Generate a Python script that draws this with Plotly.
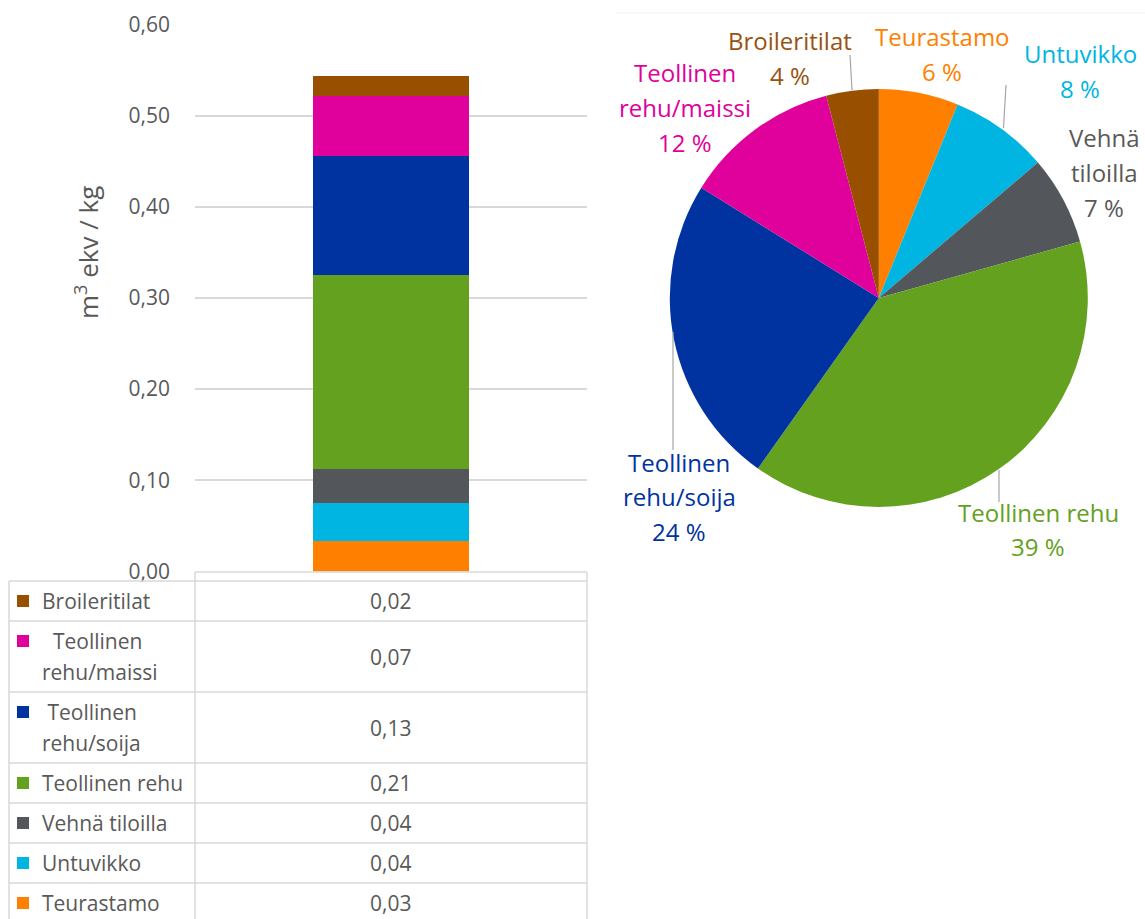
import plotly.graph_objects as go

W, H = 1145, 919

# data (stack order, bottom -> top)
categories = ["Teurastamo", "Untuvikko", "Vehnä tiloilla", "Teollinen rehu",
              "Teollinen rehu/soija", "Teollinen rehu/maissi", "Broileritilat"]
values = [0.0334, 0.0414, 0.0373, 0.2127, 0.1305, 0.0657, 0.0220]
colors = ["#FF8000", "#00B5E2", "#53565A", "#64A11E", "#0033A0", "#E0009B", "#994F00"]
label_colors = ["#FF8000", "#00B5E2", "#595959", "#64A11E", "#0033A0", "#E0009B", "#9A5210"]

y_ticks = [0.0, 0.1, 0.2, 0.3, 0.4, 0.5, 0.6]

# how each name wraps in the data table and in the pie labels
table_lines = {
    "Teurastamo": ["Teurastamo"],
    "Untuvikko": ["Untuvikko"],
    "Vehnä tiloilla": ["Vehnä tiloilla"],
    "Teollinen rehu": ["Teollinen rehu"],
    "Teollinen rehu/soija": ["\u00a0Teollinen", "rehu/soija"],
    "Teollinen rehu/maissi": ["\u00a0\u00a0Teollinen", "rehu/maissi"],
    "Broileritilat": ["Broileritilat"],
}
pie_lines = {
    "Teurastamo": ["Teurastamo"],
    "Untuvikko": ["Untuvikko"],
    "Vehnä tiloilla": ["Vehnä", "tiloilla"],
    "Teollinen rehu": ["Teollinen rehu"],
    "Teollinen rehu/soija": ["Teollinen", "rehu/soija"],
    "Teollinen rehu/maissi": ["Teollinen", "rehu/maissi"],
    "Broileritilat": ["Broileritilat"],
}

FONT = "Open Sans, Noto Sans, sans-serif"
GREY = "#595959"
LINE = "#d9d9d9"


def px(x):
    return x / W


def py(y):
    return 1 - y / H


fig = go.Figure()

# stacked column
for cat, val, col in zip(categories, values, colors):
    fig.add_trace(go.Bar(x=[""], y=[val], name=cat, marker=dict(color=col, line=dict(width=0)),
                         xaxis="x", yaxis="y", showlegend=False))

# pie
total = sum(values)
fig.add_trace(go.Pie(values=values, labels=categories, sort=False, direction="clockwise",
                     rotation=0, textinfo="none", hoverinfo="label+percent",
                     marker=dict(colors=colors, line=dict(width=0)),
                     domain=dict(x=[px(669.8), px(1087.8)], y=[py(507), py(89)]),
                     showlegend=False))

shapes = []
annotations = []

# data table under the column chart
col0, col1, col2 = 9, 195, 587
table_top = 581
row_h = {1: 40, 2: 71}
shapes.append(dict(type="line", xref="paper", yref="paper", x0=px(col1), x1=px(col2),
                   y0=py(572), y1=py(572), line=dict(color=LINE, width=1.5)))
shapes.append(dict(type="line", xref="paper", yref="paper", x0=px(col1), x1=px(col1),
                   y0=py(572), y1=py(H), line=dict(color=LINE, width=1.5)))
shapes.append(dict(type="line", xref="paper", yref="paper", x0=px(col2), x1=px(col2),
                   y0=py(572), y1=py(H), line=dict(color=LINE, width=1.5)))
shapes.append(dict(type="line", xref="paper", yref="paper", x0=px(col0), x1=px(col0),
                   y0=py(table_top), y1=py(H), line=dict(color=LINE, width=1.5)))

top = table_top
for cat, val, col in zip(categories[::-1], values[::-1], colors[::-1]):
    lines = table_lines[cat]
    h = row_h[len(lines)]
    shapes.append(dict(type="line", xref="paper", yref="paper", x0=px(col0), x1=px(col2),
                       y0=py(top), y1=py(top), line=dict(color=LINE, width=1.5)))
    if len(lines) == 1:
        ys = [top + h / 2]
    else:
        ys = [top + 20, top + 51]
    shapes.append(dict(type="rect", xref="paper", yref="paper", x0=px(17), x1=px(29),
                       y0=py(ys[0] - 6), y1=py(ys[0] + 6), fillcolor=col, line=dict(width=0)))
    for t, yy in zip(lines, ys):
        annotations.append(dict(text=t, xref="paper", yref="paper", x=px(40), y=py(yy),
                                xanchor="left", yanchor="middle", showarrow=False,
                                font=dict(size=21, color=GREY, family=FONT)))
    annotations.append(dict(text=f"{val:.2f}".replace(".", ","), xref="paper", yref="paper",
                            x=px((col1 + col2) / 2), y=py(top + h / 2), xanchor="center",
                            yanchor="middle", showarrow=False,
                            font=dict(size=21, color=GREY, family=FONT)))
    top += h
shapes.append(dict(type="line", xref="paper", yref="paper", x0=px(col0), x1=px(col2),
                   y0=py(top), y1=py(top), line=dict(color=LINE, width=1.5)))

# axis title
annotations.append(dict(text="m<sup>3</sup> ekv / kg", xref="paper", yref="paper",
                        x=px(87), y=py(253), textangle=-90, showarrow=False,
                        xanchor="center", yanchor="middle",
                        font=dict(size=26, color=GREY, family=FONT)))

# pie labels (placed like the Excel "best fit" labels)
pie_label_pos = {
    "Teurastamo": (942, 37),
    "Untuvikko": (1080, 54),
    "Vehnä tiloilla": (1104, 138),
    "Teollinen rehu": (1038, 512),
    "Teollinen rehu/soija": (679, 462),
    "Teollinen rehu/maissi": (685, 73),
    "Broileritilat": (790, 41),
}
for cat, val, lc in zip(categories, values, label_colors):
    x0, y0 = pie_label_pos[cat]
    lines = pie_lines[cat] + [f"{round(val / total * 100)} %"]
    for i, t in enumerate(lines):
        annotations.append(dict(text=t, xref="paper", yref="paper", x=px(x0), y=py(y0 + i * 34.5),
                                xanchor="center", yanchor="middle", showarrow=False,
                                font=dict(size=24, color=lc, family=FONT)))

# leader lines
leaders = [((850, 55), (852, 90)), ((1006, 85), (1003.5, 128)),
           ((673, 332), (673, 450)), ((999, 470), (999, 502))]
for (xa, ya), (xb, yb) in leaders:
    shapes.append(dict(type="line", xref="paper", yref="paper", x0=px(xa), x1=px(xb),
                       y0=py(ya), y1=py(yb), line=dict(color="#a6a6a6", width=1.2)))

# faint frame line of the pie chart
shapes.append(dict(type="line", xref="paper", yref="paper", x0=px(615), x1=1,
                   y0=py(13), y1=py(13), line=dict(color="#f2f2f2", width=1)))

fig.update_layout(
    width=W, height=H,
    margin=dict(l=0, r=0, t=0, b=0, autoexpand=False),
    paper_bgcolor="white", plot_bgcolor="white",
    barmode="stack", bargap=0.6,
    separators=", ",
    font=dict(family=FONT, color=GREY),
    xaxis=dict(domain=[px(195), px(587)], showticklabels=False, showgrid=False,
               zeroline=False, showline=False, fixedrange=True, automargin=False),
    yaxis=dict(domain=[py(571.5), py(24.3)], range=[0, 0.6], tickvals=y_ticks,
               tickformat=".2f", showgrid=True, gridcolor=LINE, gridwidth=1.5,
               zeroline=False, showline=False, ticks="", ticklabelstandoff=24,
               automargin=False,
               tickfont=dict(size=21, color=GREY, family=FONT)),
    shapes=shapes,
    annotations=annotations,
)

fig.write_html("out.html", config={"displayModeBar": False},
               post_script="document.body.style.margin='0';")
